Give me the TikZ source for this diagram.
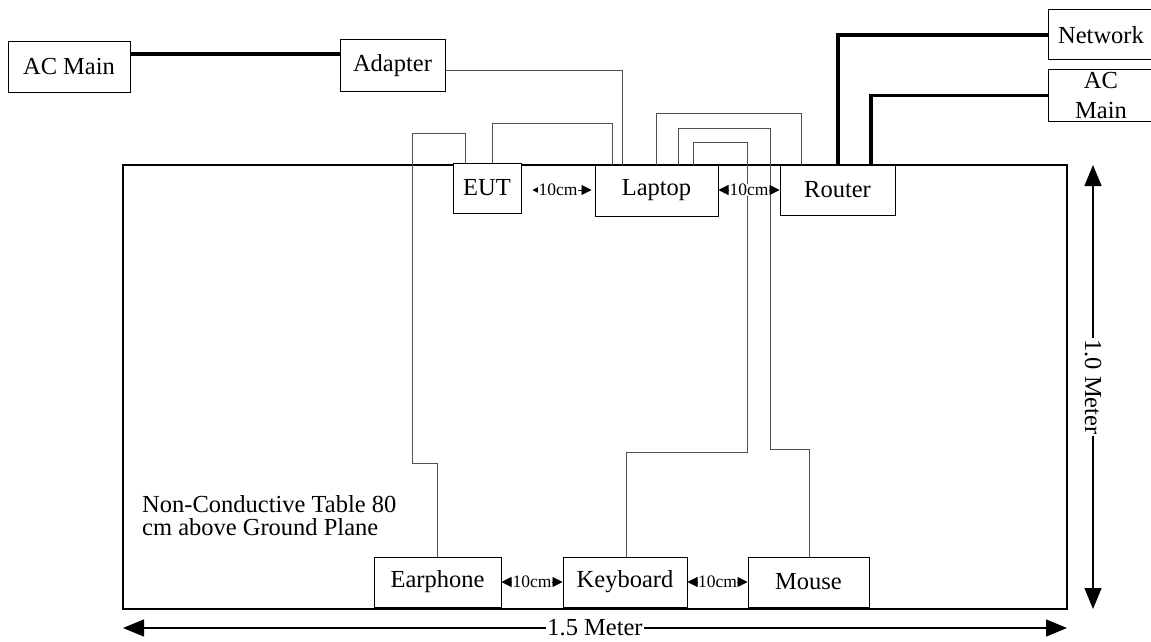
\documentclass[tikz,border=0pt]{standalone}
\usepackage{fontspec}
\setmainfont{Liberation Serif}
\usetikzlibrary{arrows.meta}
\definecolor{cablegray}{RGB}{80,80,80}

\begin{document}
\begin{tikzpicture}[x=1pt, y=-1pt,
  devbox/.style={draw, line width=1pt, fill=white, inner sep=0pt, font=\fontsize{24.5}{30}\selectfont, align=center},
  cable/.style={draw=cablegray, line width=1pt},
  pwr/.style={line width=3.2pt},
  dimarr/.style={{Triangle[length=10pt,width=10pt]}-{Triangle[length=10pt,width=10pt]}, line width=0.8pt},
  dimlbl/.style={fill=white, inner sep=0.5pt, font=\fontsize{17.5}{17.5}\selectfont},
  bigarr/.style={{Triangle[length=21pt,width=17pt]}-{Triangle[length=21pt,width=17pt]}, line width=1.3pt},
  biglbl/.style={fill=white, inner sep=1pt, font=\fontsize{24.5}{28}\selectfont}
]
\useasboundingbox (0,0) rectangle (1151,642);

% table
\coordinate (tl) at (123,165);
\coordinate (br) at (1067,609);
\draw[line width=2.8pt] (tl) rectangle (br);
\node[anchor=west, inner sep=0pt, align=left, font=\fontsize{24.5}{23}\selectfont] (note) at (142,516) {Non-Conductive Table 80\\cm above Ground Plane};

% devices
\node[devbox, minimum width=122pt, minimum height=50pt] (acl) at (69,67) {AC Main};
\node[devbox, minimum width=105pt, minimum height=51pt] (adp) at (392.5,65.5) {Adapter};
\node[devbox, minimum width=68pt, minimum height=50pt] (eut) at (487,188) {EUT};
\node[devbox, minimum width=123pt, minimum height=51pt] (lap) at (656.5,190.5) {Laptop};
\node[devbox, minimum width=115pt, minimum height=50pt] (rtr) at (837.5,190) {Router};
\node[devbox, minimum width=106pt, minimum height=50pt] (net) at (1101,35) {Network};
\node[devbox, minimum width=106pt, minimum height=51pt] (acr) at (1101,95.5) {AC\\Main};
\node[devbox, minimum width=127pt, minimum height=50pt] (eph) at (437.5,582) {Earphone};
\node[devbox, minimum width=124pt, minimum height=50pt] (kbd) at (625,582) {Keyboard};
\node[devbox, minimum width=121pt, minimum height=50pt] (ms) at (808.5,582) {Mouse};

% power and network lines
\draw[pwr] (acl.east |- 0,54) -- (adp.west |- 0,54);
\draw[pwr] (rtr.north -| 838,0) |- (net.west);
\draw[pwr] (rtr.north -| 871,0) |- (acr.west);

% signal cables
\draw[cable] (eph.north -| 437,0) |- (412,463) |- (465,133) -- (eut.north -| 465,0);
\draw[cable] (eut.north -| 492,0) |- (612,123) -- (lap.north -| 612,0);
\draw[cable] (adp.east |- 0,71) -| (lap.north -| 622,0);
\draw[cable] (lap.north -| 656,0) |- (801,113) -- (rtr.north -| 801,0);
\draw[cable] (lap.north -| 678,0) |- (770,128) |- (809,449) -- (ms.north -| 809,0);
\draw[cable] (lap.north -| 693,0) |- (747,142) |- (626,452) -- (kbd.north -| 626,0);

% spacing marks
\draw[dimarr, shorten <=11pt, shorten >=3pt] (eut.east |- 0,190) -- (lap.west |- 0,190) node[dimlbl, midway] {10cm};
\draw[dimarr] (lap.east |- 0,190) -- (rtr.west |- 0,190) node[dimlbl, midway] {10cm};
\draw[dimarr] (eph.east) -- (kbd.west) node[dimlbl, midway] {10cm};
\draw[dimarr] (kbd.east) -- (ms.west) node[dimlbl, midway] {10cm};

% table size
\draw[bigarr] (tl |- 0,628) -- (br |- 0,628) node[biglbl, midway] {1.5 Meter};
\draw[bigarr] (tl -| 1093,0) -- (br -| 1093,0) node[biglbl, midway, rotate=-90] {1.0 Meter};
\end{tikzpicture}
\end{document}
